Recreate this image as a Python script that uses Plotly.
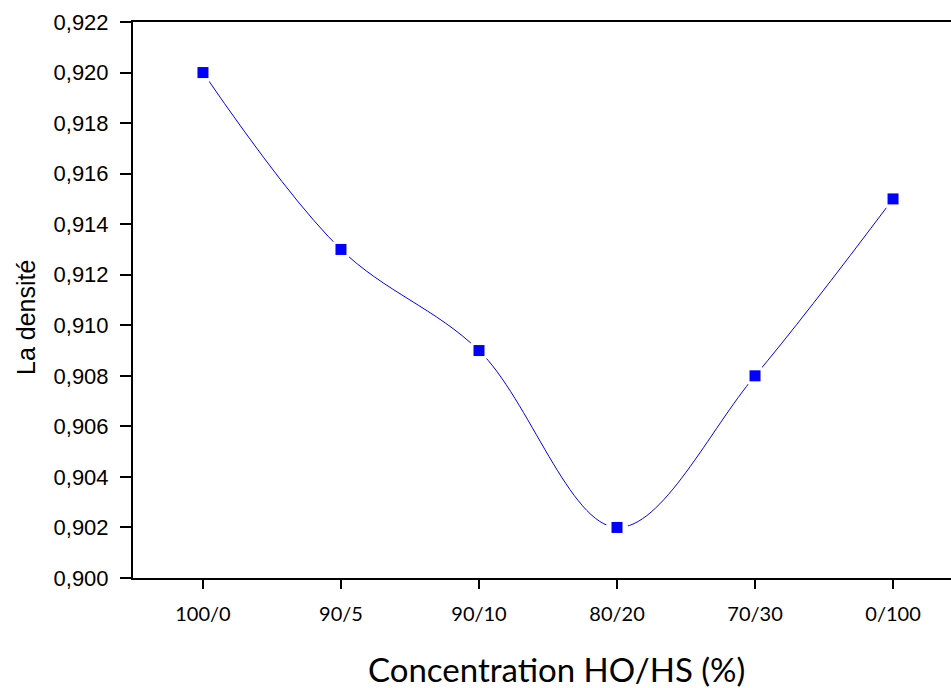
import plotly.graph_objects as go

categories = ["100/0", "90/5", "90/10", "80/20", "70/30", "0/100"]
densite = [0.920, 0.913, 0.909, 0.902, 0.908, 0.915]
y_ticks = [0.900, 0.902, 0.904, 0.906, 0.908, 0.910, 0.912, 0.914, 0.916, 0.918, 0.920, 0.922]
x_title = "Concentration HO/HS (%)"
y_title = "La densité"

xs = list(range(len(categories)))

fig = go.Figure()
fig.add_trace(go.Scatter(
    x=xs, y=densite, mode="lines",
    line=dict(color="#0000FF", width=1, shape="spline", smoothing=1.0),
    hoverinfo="skip", showlegend=False,
))
fig.add_trace(go.Scatter(
    x=xs, y=densite, mode="markers",
    marker=dict(symbol="circle", size=22, color="white", line=dict(width=0)),
    hoverinfo="skip", showlegend=False,
))
fig.add_trace(go.Scatter(
    x=xs, y=densite, mode="markers",
    marker=dict(symbol="square", size=11, color="#0000FF", line=dict(width=0)),
    showlegend=False,
))

fig.update_layout(
    width=951, height=688,
    margin=dict(l=133, r=0, t=22, b=110),
    paper_bgcolor="white", plot_bgcolor="white",
    separators=", ",
    xaxis=dict(
        range=[-0.507, 5.42],
        tickmode="array", tickvals=xs, ticktext=categories,
        showline=True, linecolor="black", linewidth=2, mirror=True,
        ticks="outside", ticklen=9, tickwidth=1.5, tickcolor="black",
        ticklabelstandoff=8,
        showgrid=False, zeroline=False,
        tickfont=dict(family="Lato, Carlito, sans-serif", size=20, color="black"),
    ),
    yaxis=dict(
        range=[0.900, 0.922],
        tickmode="array", tickvals=y_ticks,
        tickformat=".3f",
        showline=True, linecolor="black", linewidth=2, mirror=False,
        ticks="outside", ticklen=11, tickwidth=1.5, tickcolor="black",
        ticklabelstandoff=7,
        showgrid=False, zeroline=False,
        tickfont=dict(family="Liberation Sans, Arial, sans-serif", size=22, color="black"),
    ),
    annotations=[
        dict(text=x_title, xref="paper", yref="paper",
             x=0.518, y=-0.163, xanchor="center", yanchor="middle",
             showarrow=False,
             font=dict(family="Lato, Carlito, sans-serif", size=33, color="black")),
        dict(text=y_title, xref="paper", yref="paper",
             x=-0.1308, y=0.4676, xanchor="center", yanchor="middle",
             textangle=-90, showarrow=False,
             font=dict(family="Liberation Sans, Arial, sans-serif", size=25, color="black")),
    ],
)

fig.write_html("out.html")
